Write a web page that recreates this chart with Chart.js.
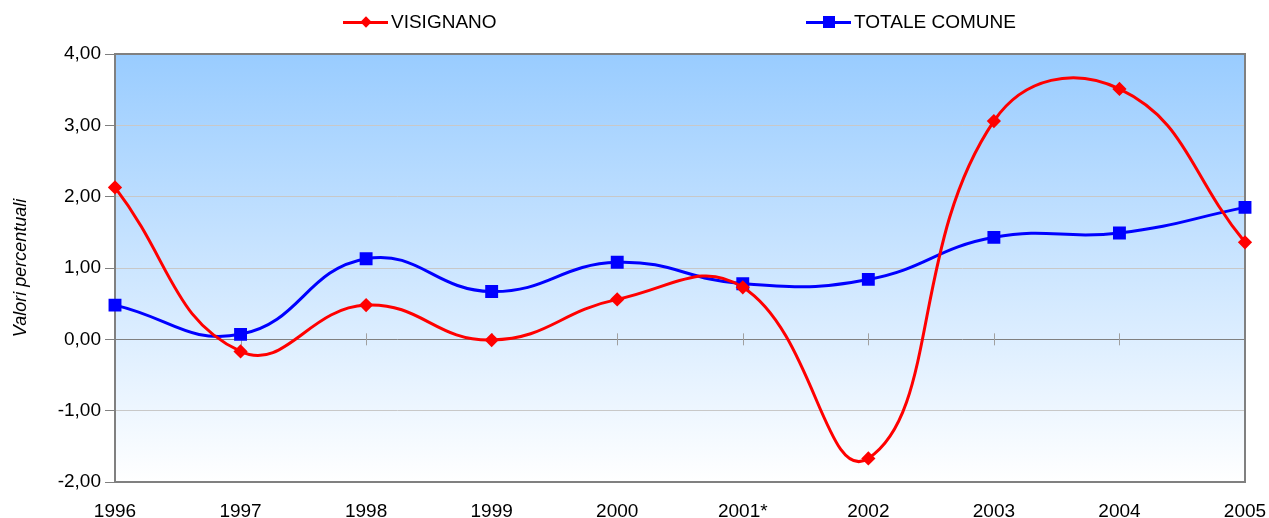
<!DOCTYPE html>
<html>
<head>
<meta charset="utf-8">
<script src="https://cdn.jsdelivr.net/npm/chart.js@4"></script>
<style>
  html, body { margin: 0; padding: 0; background: #fff; }
  #wrap { position: relative; width: 1269px; height: 518px; }
  .leg { position: absolute; top: 11px; height: 22px; display: flex; align-items: center;
         font-family: "Liberation Sans", Arial, sans-serif; font-size: 19px; color: #000; }
  .leg .ln { position: relative; width: 45px; height: 3px; margin-right: 3px; }
  .leg .mk { position: absolute; left: 50%; top: 50%; }
  #legA { left: 343px; }
  #legB { left: 806px; }
</style>
</head>
<body>
<div id="wrap">
  <canvas id="chart" width="1269" height="518"></canvas>
  <div class="leg" id="legA"><span class="ln" style="background:#ff0000"><span class="mk" style="width:8px;height:8px;background:#ff0000;transform:translate(-50%,-50%) rotate(45deg)"></span></span><span id="labA"></span></div>
  <div class="leg" id="legB"><span class="ln" style="background:#0000ff"><span class="mk" style="width:12px;height:12px;background:#0000ff;transform:translate(-50%,-50%)"></span></span><span id="labB"></span></div>
</div>
<script>
const years = ["1996", "1997", "1998", "1999", "2000", "2001*", "2002", "2003", "2004", "2005"];
const seriesNames = ["VISIGNANO", "TOTALE COMUNE"];
const visignano = [2.13, -0.17, 0.48, -0.01, 0.56, 0.73, -1.67, 3.06, 3.51, 1.36];
const totaleComune = [0.48, 0.07, 1.13, 0.67, 1.08, 0.78, 0.84, 1.43, 1.49, 1.85];
const yTitle = "Valori percentuali";

document.getElementById("labA").textContent = seriesNames[0];
document.getElementById("labB").textContent = seriesNames[1];

const font = "'Liberation Sans', Arial, sans-serif";

// plot area background + frame + ticks on the zero line
const plotDeco = {
  id: "plotDeco",
  beforeDraw(c) {
    const a = c.chartArea, ctx = c.ctx;
    const g = ctx.createLinearGradient(0, a.top, 0, a.bottom);
    g.addColorStop(0, "#99ccff");
    g.addColorStop(1, "#ffffff");
    ctx.save();
    ctx.fillStyle = g;
    ctx.fillRect(a.left, a.top, a.right - a.left, a.bottom - a.top);
    ctx.restore();
  },
  beforeDatasetsDraw(c) {
    const a = c.chartArea, ctx = c.ctx;
    const x = c.scales.x, y0 = c.scales.y.getPixelForValue(0);
    ctx.save();
    ctx.strokeStyle = "#a0a0a0";
    ctx.lineWidth = 1;
    for (let i = 1; i < years.length - 1; i++) {
      const px = Math.round(x.getPixelForTick(i)) + 0.5;
      ctx.beginPath();
      ctx.moveTo(px, y0 - 6);
      ctx.lineTo(px, y0 + 6);
      ctx.stroke();
    }
    ctx.strokeStyle = "#808080";
    ctx.lineWidth = 2;
    ctx.strokeRect(a.left, a.top, a.right - a.left, a.bottom - a.top);
    ctx.restore();
  }
};

const chart = new Chart(document.getElementById("chart"), {
  type: "line",
  data: {
    labels: years,
    datasets: [
      {
        label: seriesNames[0], data: visignano,
        borderColor: "#ff0000", backgroundColor: "#ff0000",
        borderWidth: 3, pointStyle: "rectRot", pointRadius: 5, pointHoverRadius: 5,
        tension: 0.45
      },
      {
        label: seriesNames[1], data: totaleComune,
        borderColor: "#0000ff", backgroundColor: "#0000ff",
        borderWidth: 3, pointStyle: "rect", pointRadius: 7, pointHoverRadius: 7,
        tension: 0.45
      }
    ]
  },
  options: {
    responsive: false,
    animation: false,
    layout: { padding: { top: 54, right: 24, left: 0, bottom: 0 } },
    elements: { line: { capBezierPoints: false } },
    plugins: { legend: { display: false }, tooltip: { enabled: false } },
    scales: {
      x: {
        offset: false,
        grid: { display: false, drawTicks: false },
        border: { display: false },
        ticks: { color: "#000", font: { family: font, size: 19 }, padding: 18, maxRotation: 0, autoSkip: false },
        afterFit(s) { s.height = 36; s.paddingLeft = 0; s.paddingRight = 0; }
      },
      y: {
        min: -2, max: 4,
        border: { display: false },
        grid: {
          color: ctx => ctx.tick && ctx.tick.value === 0 ? "#808080" : "#c8c8c8",
          lineWidth: 1,
          tickColor: "#808080",
          tickLength: 10
        },
        ticks: {
          stepSize: 1, color: "#000", padding: 4,
          font: { family: font, size: 19 },
          callback: v => v.toFixed(2).replace(".", ",")
        },
        title: {
          display: true, text: yTitle, color: "#000",
          font: { family: font, size: 18, style: "italic" },
          padding: { top: 10, bottom: 4 }
        },
        afterFit(s) { s.width = 115; s.paddingTop = 0; s.paddingBottom = 0; }
      }
    }
  },
  plugins: [plotDeco]
});
</script>
</body>
</html>
